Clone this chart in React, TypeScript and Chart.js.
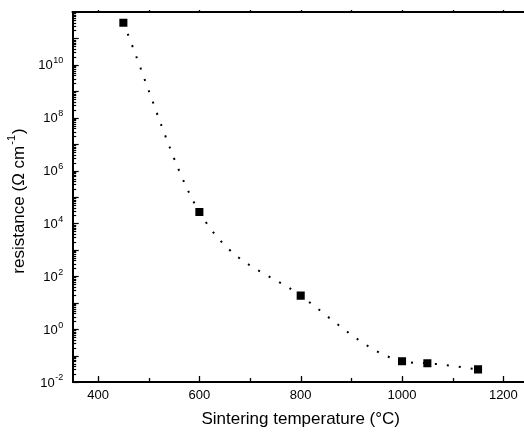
import React, { useEffect, useRef } from "react";
import { Chart, registerables } from "chart.js";

Chart.register(...registerables);

// ---- data ----
const temperatures = [450, 600, 800, 1000, 1050, 1150];
const resistance = [3.9e11, 2.7e4, 18.5, 0.061, 0.051, 0.03];

const xTickValues = [400, 500, 600, 700, 800, 900, 1000, 1100, 1200];
const xLabelValues = [400, 600, 800, 1000, 1200];
const yLabelExponents = [-2, 0, 2, 4, 6, 8, 10];
const yDecadeExponents = [-2, -1, 0, 1, 2, 3, 4, 5, 6, 7, 8, 9, 10, 11];

const X_MIN = 350;
const X_MAX = 1250;
const Y_MIN = 1e-2;
const Y_MAX = 1e12;

const xTitle = "Sintering temperature (°C)";
const yTitleMain = "resistance (Ω cm";
const yTitleSup = "-1";
const yTitleEnd = ")";

const FONT = "'Liberation Sans', Arial, Helvetica, sans-serif";

const decorPlugin = {
  id: "decor",
  afterDraw(chart: any) {
    const { ctx, chartArea: a } = chart;
    const x = chart.scales.x;
    const y = chart.scales.y;
    ctx.save();
    ctx.strokeStyle = "#000";
    ctx.fillStyle = "#000";
    // top frame line
    ctx.lineWidth = 2;
    ctx.beginPath();
    ctx.moveTo(a.left - 1, a.top);
    ctx.lineTo(a.right, a.top);
    ctx.stroke();

    // x ticks (inside) and tiny top ticks
    ctx.lineWidth = 1.3;
    for (const v of xTickValues) {
      const px = Math.round(x.getPixelForValue(v)) + 0.5;
      const len = xLabelValues.includes(v) ? 6 : 4;
      ctx.beginPath();
      ctx.moveTo(px, a.bottom);
      ctx.lineTo(px, a.bottom - len);
      ctx.stroke();
      ctx.beginPath();
      ctx.moveTo(px, a.top);
      ctx.lineTo(px, a.top - 2);
      ctx.stroke();
    }

    // y ticks (inside), major per decade, minor 2..9
    ctx.lineWidth = 1.2;
    for (const e of yDecadeExponents) {
      for (let m = 1; m <= 9; m++) {
        const val = m * Math.pow(10, e);
        if (val > Y_MAX) break;
        const py = Math.round(y.getPixelForValue(val)) + 0.5;
        const len = m === 1 ? 6 : 3.5;
        ctx.beginPath();
        ctx.moveTo(a.left, py);
        ctx.lineTo(a.left + len, py);
        ctx.stroke();
      }
    }

    // y tick labels with superscripts
    const rightEdge = a.left - 10;
    for (const e of yLabelExponents) {
      const py = y.getPixelForValue(Math.pow(10, e));
      ctx.font = `13px ${FONT}`;
      const wBase = ctx.measureText("10").width;
      ctx.font = `9px ${FONT}`;
      const expStr = String(e);
      const wExp = ctx.measureText(expStr).width;
      const start = rightEdge - wBase - wExp;
      ctx.textBaseline = "middle";
      ctx.textAlign = "left";
      ctx.font = `13px ${FONT}`;
      ctx.fillText("10", start, py + 1);
      ctx.font = `9px ${FONT}`;
      ctx.fillText(expStr, start + wBase + 0.5, py - 4);
    }

    // y title (rotated)
    const cy = (a.top + a.bottom) / 2 + 4;
    ctx.translate(19, cy);
    ctx.rotate(-Math.PI / 2);
    ctx.font = `17px ${FONT}`;
    const w1 = ctx.measureText(yTitleMain).width;
    const w3 = ctx.measureText(yTitleEnd).width;
    ctx.font = `11px ${FONT}`;
    const w2 = ctx.measureText(yTitleSup).width;
    const total = w1 + w2 + w3 + 2;
    let sx = -total / 2;
    ctx.textBaseline = "middle";
    ctx.textAlign = "left";
    ctx.font = `17px ${FONT}`;
    ctx.fillText(yTitleMain, sx, 0);
    sx += w1 + 1;
    ctx.font = `11px ${FONT}`;
    ctx.fillText(yTitleSup, sx, -7);
    sx += w2 + 1;
    ctx.font = `17px ${FONT}`;
    ctx.fillText(yTitleEnd, sx, 0);
    ctx.restore();
  },
};

export default function App() {
  const ref = useRef<HTMLCanvasElement | null>(null);
  useEffect(() => {
    if (!ref.current) return;
    const chart = new Chart(ref.current, {
      type: "line",
      data: {
        datasets: [
          {
            data: temperatures.map((t, i) => ({ x: t, y: resistance[i] })),
            borderColor: "#000",
            borderWidth: 2,
            borderDash: [2, 10],
            cubicInterpolationMode: "monotone",
            fill: false,
            pointStyle: "rect",
            pointRadius: 5.7,
            pointBackgroundColor: "#000",
            pointBorderColor: "#000",
            pointBorderWidth: 0,
          } as any,
        ],
      },
      options: {
        animation: false,
        responsive: false,
        devicePixelRatio: 1,
        layout: { padding: { top: 12, right: 11.3, left: 0, bottom: 0 } },
        plugins: { legend: { display: false }, tooltip: { enabled: false } },
        scales: {
          x: {
            type: "linear",
            min: X_MIN,
            max: X_MAX,
            grid: { display: false, drawTicks: false },
            border: { display: true, color: "#000", width: 2 },
            afterBuildTicks: (scale: any) => {
              scale.ticks = xTickValues.map((v) => ({ value: v }));
            },
            afterFit: (scale: any) => {
              scale.height = 50;
            },
            ticks: {
              color: "#000",
              padding: 6,
              maxRotation: 0,
              autoSkip: false,
              font: { family: FONT, size: 13 },
              callback: (v: any) => (xLabelValues.includes(Number(v)) ? String(v) : ""),
            },
            title: {
              display: true,
              text: xTitle,
              color: "#000",
              font: { family: FONT, size: 17 },
              padding: { top: 0, bottom: 2 },
            },
          },
          y: {
            type: "logarithmic",
            min: Y_MIN,
            max: Y_MAX,
            grid: { display: false, drawTicks: false },
            border: { display: true, color: "#000", width: 2 },
            ticks: { display: false },
            afterFit: (scale: any) => {
              scale.width = 72.7;
            },
          },
        },
      },
      plugins: [decorPlugin],
    });
    return () => chart.destroy();
  }, []);
  return (
    <div
      style={{
        position: "fixed",
        left: 0,
        top: 0,
        width: 524,
        height: 432,
        overflow: "hidden",
        background: "#fff",
      }}
    >
      <canvas ref={ref} width={540} height={432} style={{ display: "block", width: 540, height: 432 }} />
    </div>
  );
}
